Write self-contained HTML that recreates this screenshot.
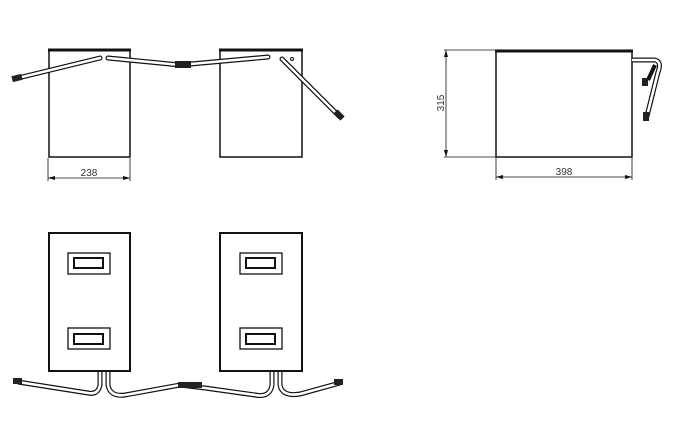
<!DOCTYPE html>
<html><head><style>body{margin:0;background:#fff}svg{display:block}</style></head><body>
<svg width="689" height="441" viewBox="0 0 689 441" xmlns="http://www.w3.org/2000/svg" font-family="Liberation Sans, sans-serif">
<g fill="none" stroke="#111">
<!-- top front view -->
<rect x="49" y="50" width="81" height="107" stroke-width="1.5"/>
<line x1="48" y1="50" x2="131" y2="50" stroke-width="3"/>
<rect x="220" y="50" width="82" height="107" stroke-width="1.5"/>
<line x1="219" y1="50" x2="303" y2="50" stroke-width="3"/>
<!-- cables -->
<g stroke-width="5" stroke-linecap="round"><path d="M100 58 L18 78"/><path d="M108 58 L180 65 L268 57"/><path d="M282 59 L340 117"/></g>
<g stroke="#fff" stroke-width="2.6" stroke-linecap="round"><path d="M100 58 L18 78"/><path d="M108 58 L180 65 L268 57"/><path d="M282 59 L340 117"/></g>
<g fill="#222" stroke="none"><rect x="12" y="75" width="10" height="6" transform="rotate(-14 17 78)"/><rect x="175" y="61" width="16" height="7"/><rect x="334" y="112" width="10" height="6" transform="rotate(45 339 115)"/></g>
<circle cx="292" cy="59" r="1.5" stroke-width="1"/>
<!-- dim 238 -->
<g stroke-width="0.8"><line x1="48" y1="158" x2="48" y2="181"/><line x1="130" y1="158" x2="130" y2="181"/><line x1="48" y1="178" x2="130" y2="178"/></g>
<!-- side view -->
<rect x="496" y="51" width="136" height="106" stroke-width="1.5"/>
<line x1="495" y1="51" x2="633" y2="51" stroke-width="3"/>
<g stroke-width="0.8"><line x1="444" y1="50" x2="496" y2="50"/><line x1="444" y1="157" x2="496" y2="157"/><line x1="446" y1="50" x2="446" y2="157"/><line x1="496" y1="158" x2="496" y2="180"/><line x1="632" y1="158" x2="632" y2="180"/><line x1="496" y1="177" x2="632" y2="177"/></g>
<path d="M632 60 L655 60 Q662 62 658 72 L646 120" stroke-width="5"/>
<path d="M632 60 L655 60 Q662 62 658 72 L646 120" stroke="#fff" stroke-width="2.6"/>
<path d="M655 65 L648 80" stroke-width="4"/>
<g fill="#222" stroke="none"><rect x="642" y="78" width="6" height="8"/><rect x="643" y="112" width="6" height="9"/></g>
<!-- bottom views -->
<rect x="49" y="233" width="81" height="138" stroke-width="2"/>
<rect x="220" y="233" width="82" height="138" stroke-width="2"/>
<g stroke-width="1.3">
<rect x="68" y="253" width="42" height="21"/><rect x="74" y="258" width="29" height="10" stroke-width="2"/>
<rect x="68" y="328" width="42" height="21"/><rect x="74" y="334" width="29" height="10" stroke-width="2"/>
<rect x="240" y="253" width="42" height="21"/><rect x="246" y="258" width="29" height="10" stroke-width="2"/>
<rect x="240" y="328" width="42" height="21"/><rect x="246" y="334" width="29" height="10" stroke-width="2"/>
</g>
<g stroke-width="5"><path d="M100 372 L100 385 Q98 395 88 393 L18 382"/><path d="M108 372 L108 385 Q110 397 125 395 L180 385 L205 388 L255 395 Q270 398 272 385 L272 372"/><path d="M280 372 L280 385 Q282 397 300 394 L340 383"/></g>
<g stroke="#fff" stroke-width="2.6"><path d="M100 372 L100 385 Q98 395 88 393 L18 382"/><path d="M108 372 L108 385 Q110 397 125 395 L180 385 L205 388 L255 395 Q270 398 272 385 L272 372"/><path d="M280 372 L280 385 Q282 397 300 394 L340 383"/></g>
<g fill="#222" stroke="none"><rect x="13" y="378" width="9" height="6"/><rect x="178" y="382" width="24" height="6"/><rect x="334" y="379" width="9" height="6"/></g>
</g>
<g fill="#111" stroke="none"><path d="M48 178 l7 -2 v4z M130 178 l-7 -2 v4z M496 177 l7 -2 v4z M632 177 l-7 -2 v4z M446 50 l-2 7 h4z M446 157 l-2 -7 h4z"/></g>
<g font-size="10" fill="#333"><text x="89" y="176" text-anchor="middle">238</text><text x="564" y="175" text-anchor="middle">398</text><text transform="translate(444 103) rotate(-90)" text-anchor="middle">315</text></g>
</svg>
</body></html>
